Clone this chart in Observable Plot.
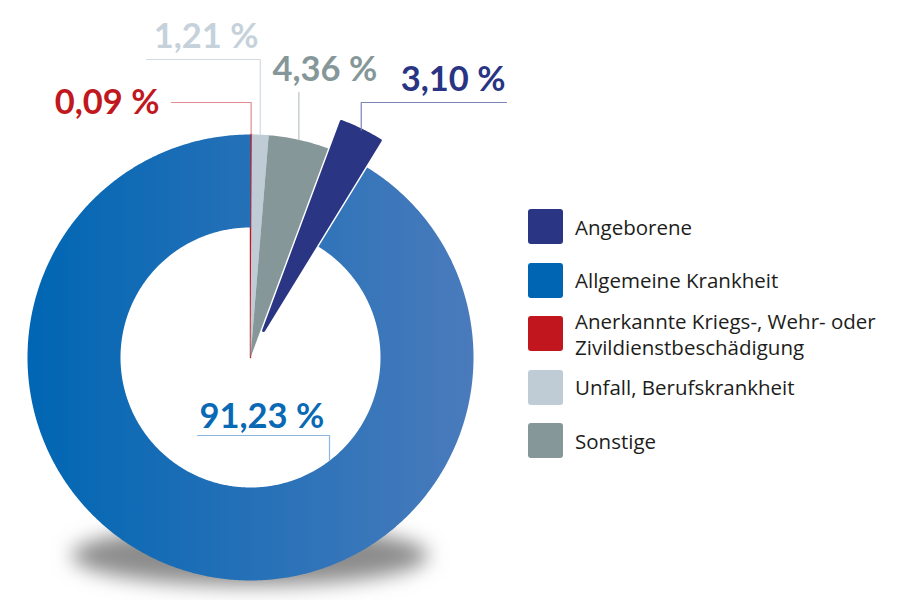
<!DOCTYPE html>
<html>
<head>
<meta charset="utf-8">
<script src="https://cdn.jsdelivr.net/npm/d3@7"></script>
<script src="https://cdn.jsdelivr.net/npm/@observablehq/plot@0.6"></script>
<style>
  html, body { margin: 0; padding: 0; background: #fff; }
  #wrap { position: relative; width: 905px; height: 600px; overflow: hidden; font-family: "Open Sans", Lato, sans-serif; }
  #chart svg { display: block; }
  #legend { position: absolute; left: 528px; top: 0; }
  .item { position: absolute; left: 0; display: flex; align-items: center; width: 375px; }
  .sw { width: 35px; height: 35px; border-radius: 3px; flex: none; }
  .lt { margin-left: 12px; font-size: 20.5px; line-height: 26px; color: #1d1d1b; width: 326px; font-family: "Open Sans", sans-serif; }
</style>
</head>
<body>
<div id="wrap">
  <div id="chart"></div>
  <div id="legend"></div>
</div>
<script>
// ---------- data ----------
const categories = [
  "Angeborene",
  "Allgemeine Krankheit",
  "Anerkannte Kriegs-, Wehr- oder Zivildienstbeschädigung",
  "Unfall, Berufskrankheit",
  "Sonstige"
];
const shares = [3.10, 91.23, 0.09, 1.21, 4.36];
const colors = ["#2a3583", "#0066b3", "#c1161e", "#bfccd6", "#869799"];
const labelColors = ["#293583", "#0a69b4", "#c1171e", "#c6d2db", "#869799"];
const leaderColors = ["#7d84b6", "#8db6df", "#e08c90", "#d3dbe1", "#b9c3c5"];
const shareLabels = ["3,10 %", "91,23 %", "0,09 %", "1,21 %", "4,36 %"];
// clockwise order from 12 o'clock
const pieOrder = [
  "Anerkannte Kriegs-, Wehr- oder Zivildienstbeschädigung",
  "Unfall, Berufskrankheit",
  "Sonstige",
  "Angeborene",
  "Allgemeine Krankheit"
];

// ---------- layout ----------
const W = 905, H = 600, CX = 250, CY = 357, RPX = 223;
const INNER = 130 / RPX;      // hole of the big slice
const EXPLODE = 30 / RPX;     // offset of the exploded slice
const explodedKey = "Angeborene";
const ringKey = "Allgemeine Krankheit";
const thinKey = "Anerkannte Kriegs-, Wehr- oder Zivildienstbeschädigung";
const px2x = p => (p - CX) / RPX;
const px2y = p => (CY - p) / RPX;

// label placement in pixels (annotation layout)
const labelLayout = {
  "Anerkannte Kriegs-, Wehr- oder Zivildienstbeschädigung": {tx: 159, ty: 113, anchor: "end", elbowY: 102, endX: 171},
  "Unfall, Berufskrankheit": {tx: 258, ty: 47, anchor: "end", elbowY: 59, endX: 146},
  "Sonstige": {tx: 272, ty: 80, anchor: "start", elbowY: 92, endX: null},
  "Angeborene": {tx: 505, ty: 90, anchor: "end", elbowY: 102, endX: 506},
  "Allgemeine Krankheit": {tx: 199, ty: 427, anchor: "start", elbowY: 435, endX: 197, innerX: 329}
};
const LABEL_SIZE = 34.5;

// ---------- geometry from data ----------
const rows = pieOrder.map(k => {
  const i = categories.indexOf(k);
  return {key: k, share: shares[i], color: colors[i], labelColor: labelColors[i], leader: leaderColors[i], label: shareLabels[i]};
});
const arcs = d3.pie().sort(null).value(d => d.share)(rows);
const STEP = Math.PI / 360;

const slices = arcs.map(a => {
  const d = a.data;
  const mid = (a.startAngle + a.endAngle) / 2;
  const off = d.key === explodedKey ? EXPLODE : 0;
  const ox = off * Math.sin(mid), oy = off * Math.cos(mid);
  const inner = d.key === ringKey ? INNER : 0;
  const n = Math.max(2, Math.ceil((a.endAngle - a.startAngle) / STEP));
  const pts = [];
  for (let j = 0; j <= n; j++) {
    const t = a.startAngle + (a.endAngle - a.startAngle) * j / n;
    pts.push({x: ox + Math.sin(t), y: oy + Math.cos(t)});
  }
  if (inner > 0) {
    for (let j = n; j >= 0; j--) {
      const t = a.startAngle + (a.endAngle - a.startAngle) * j / n;
      pts.push({x: ox + inner * Math.sin(t), y: oy + inner * Math.cos(t)});
    }
  } else {
    pts.push({x: ox, y: oy});
  }
  return {d, mid, ox, oy, inner, pts};
});

// leader lines + label positions
const leaders = [];
const labels = [];
slices.forEach(s => {
  const L = labelLayout[s.d.key];
  let ax, ay;
  if (L.innerX != null) {
    ax = px2x(L.innerX);
    ay = -Math.sqrt(INNER * INNER - ax * ax);
  } else {
    ax = s.ox + Math.sin(s.mid);
    ay = s.oy + Math.cos(s.mid);
  }
  const pts = [{x: ax, y: ay}, {x: ax, y: px2y(L.elbowY)}];
  if (L.endX != null) pts.push({x: px2x(L.endX), y: px2y(L.elbowY)});
  leaders.push({pts, color: s.d.leader});
  labels.push({x: px2x(L.tx), y: px2y(L.ty - 0.32 * LABEL_SIZE), text: s.d.label, color: s.d.labelColor, anchor: L.anchor});
});

// decorations: gradient for the big slice and the soft floor shadow
const decor = (index, scales) => {
  const g = d3.create("svg:g");
  const defs = g.append("defs");
  const lg = defs.append("linearGradient").attr("id", "blueGrad").attr("gradientUnits", "userSpaceOnUse")
    .attr("x1", scales.x(-1)).attr("x2", scales.x(1)).attr("y1", 0).attr("y2", 0);
  lg.append("stop").attr("offset", "0%").attr("stop-color", "#0066b3");
  lg.append("stop").attr("offset", "100%").attr("stop-color", "#4a7bbc");
  const f = defs.append("filter").attr("id", "shadowBlur").attr("x", "-50%").attr("y", "-50%").attr("width", "200%").attr("height", "200%");
  f.append("feGaussianBlur").attr("stdDeviation", 10);
  g.append("ellipse")
    .attr("cx", scales.x(0)).attr("cy", scales.y(-0.89))
    .attr("rx", scales.x(0.8) - scales.x(0)).attr("ry", scales.y(0) - scales.y(0.135))
    .attr("fill", "#8c8c8c").attr("filter", "url(#shadowBlur)");
  return g.node();
};

const sliceMarks = slices.map(s => Plot.line(s.pts, {
  x: "x", y: "y", curve: "linear-closed",
  fill: s.d.key === ringKey ? "url(#blueGrad)" : s.d.color,
  stroke: (s.d.key === explodedKey || s.d.key === thinKey) ? s.d.color : "none",
  strokeWidth: s.d.key === explodedKey ? 3 : s.d.key === thinKey ? 1.4 : 0,
  strokeLinejoin: "round"
}));

const leaderMarks = leaders.map(l => Plot.line(l.pts, {
  x: "x", y: "y", stroke: l.color, strokeWidth: 1.2, strokeLinejoin: "round"
}));

const textMarks = labels.map(l => Plot.text([l], {
  x: "x", y: "y", text: "text", fill: l.color, textAnchor: l.anchor,
  fontSize: LABEL_SIZE, fontWeight: "bold", fontFamily: "Lato"
}));

const chart = Plot.plot({
  width: W, height: H,
  margin: 0,
  x: {domain: [px2x(0), px2x(W)], range: [0, W], axis: null},
  y: {domain: [px2y(H), px2y(0)], range: [H, 0], axis: null},
  style: {background: "transparent", fontFamily: "Lato", overflow: "visible"},
  marks: [decor, ...sliceMarks, ...leaderMarks, ...textMarks]
});
document.getElementById("chart").appendChild(chart);

// legend
const legend = d3.select("#legend");
categories.forEach((c, i) => {
  const top = 209 + i * 53.5;
  const item = legend.append("div").attr("class", "item").style("top", top + "px").style("height", "35px");
  item.append("div").attr("class", "sw").style("background", colors[i]);
  item.append("div").attr("class", "lt").text(c);
});
</script>
</body>
</html>
